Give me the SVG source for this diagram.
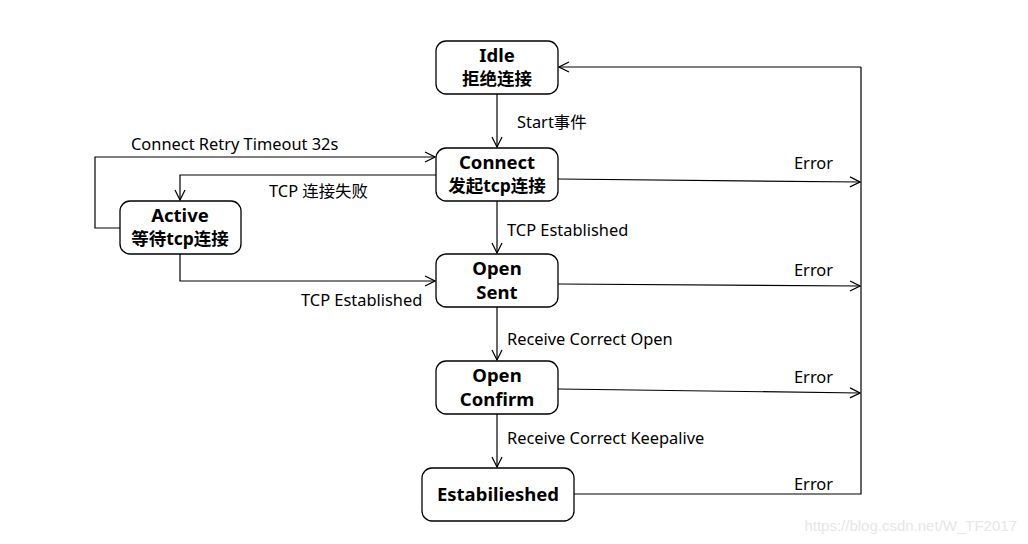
<svg xmlns="http://www.w3.org/2000/svg" width="1028" height="544" viewBox="0 0 1028 544">
<style>
.node rect{fill:#fff;stroke:#000;stroke-width:1.3}
.t{font-family:"Noto Sans","Open Sans","Noto Sans CJK SC",sans-serif;font-weight:bold;font-size:18.5px;text-anchor:middle;fill:#000}
.c{font-family:"Noto Sans","Noto Sans CJK SC",sans-serif;font-weight:bold;font-size:17.5px;text-anchor:middle;fill:#000}
.l{font-family:"Noto Sans","Open Sans","Noto Sans CJK SC",sans-serif;font-size:16.4px;fill:#000}
.e{fill:none;stroke:#000;stroke-width:1.2}
</style>
<defs>
<marker id="a" viewBox="0 0 12 12" refX="11" refY="6" markerWidth="12" markerHeight="12" markerUnits="userSpaceOnUse" orient="auto">
<path d="M1,1 L11,6 L1,11" fill="none" stroke="#000" stroke-width="1.2"/>
</marker>
</defs>
<rect width="1028" height="544" fill="#fff"/>
<g id="connectors">
<path class="e" d="M497,94 V147" marker-end="url(#a)"/>
<path class="e" d="M497,201 V253" marker-end="url(#a)"/>
<path class="e" d="M497,307 V360" marker-end="url(#a)"/>
<path class="e" d="M497,414 V467" marker-end="url(#a)"/>
<path class="e" d="M861,67 H559" marker-end="url(#a)"/>
<path class="e" d="M574,494 H861 V67"/>
<path class="e" d="M558,179 L860,182" marker-end="url(#a)"/>
<path class="e" d="M558,284 L860,286" marker-end="url(#a)"/>
<path class="e" d="M558,389 L860,393" marker-end="url(#a)"/>
<path class="e" d="M120,228 H95 V157 H435" marker-end="url(#a)"/>
<path class="e" d="M436,175 H180 V200" marker-end="url(#a)"/>
<path class="e" d="M180,254 V281 H435" marker-end="url(#a)"/>
<text class="l" x="517" y="128">Start事件</text>
<text class="l" x="507" y="236">TCP Established</text>
<text class="l" x="507" y="345">Receive Correct Open</text>
<text class="l" x="507" y="444">Receive Correct Keepalive</text>
<text class="l" x="794" y="169">Error</text>
<text class="l" x="794" y="276">Error</text>
<text class="l" x="794" y="383">Error</text>
<text class="l" x="794" y="490">Error</text>
<text class="l" x="131" y="150">Connect Retry Timeout 32s</text>
<text class="l" x="269" y="197">TCP 连接失败</text>
<text class="l" x="301" y="306">TCP Established</text>
</g>
<g id="idle" class="node">
<rect x="436" y="41" width="122" height="53" rx="10"/>
<text class="t" x="497" y="62">Idle</text>
<text class="c" x="497" y="85">拒绝连接</text>
</g>
<g id="connect" class="node">
<rect x="436" y="148" width="122" height="53" rx="10"/>
<text class="t" x="497" y="169">Connect</text>
<text class="c" x="497" y="192">发起tcp连接</text>
</g>
<g id="active" class="node">
<rect x="120" y="201" width="121" height="53" rx="10"/>
<text class="t" x="180" y="222">Active</text>
<text class="c" x="180" y="245">等待tcp连接</text>
</g>
<g id="opensent" class="node">
<rect x="436" y="254" width="122" height="53" rx="10"/>
<text class="t" x="497" y="275">Open</text>
<text class="t" x="497" y="299">Sent</text>
</g>
<g id="openconfirm" class="node">
<rect x="436" y="361" width="122" height="53" rx="10"/>
<text class="t" x="497" y="382">Open</text>
<text class="t" x="497" y="406">Confirm</text>
</g>
<g id="established" class="node">
<rect x="422" y="468" width="152" height="53" rx="10"/>
<text class="t" x="498" y="501" font-size="18">Estabilieshed</text>
</g>
<text x="1017" y="531" text-anchor="end" font-family="Liberation Sans, Arial, sans-serif" font-size="15" fill="#e6e6e6">https://blog.csdn.net/W_TF2017</text>
</svg>
